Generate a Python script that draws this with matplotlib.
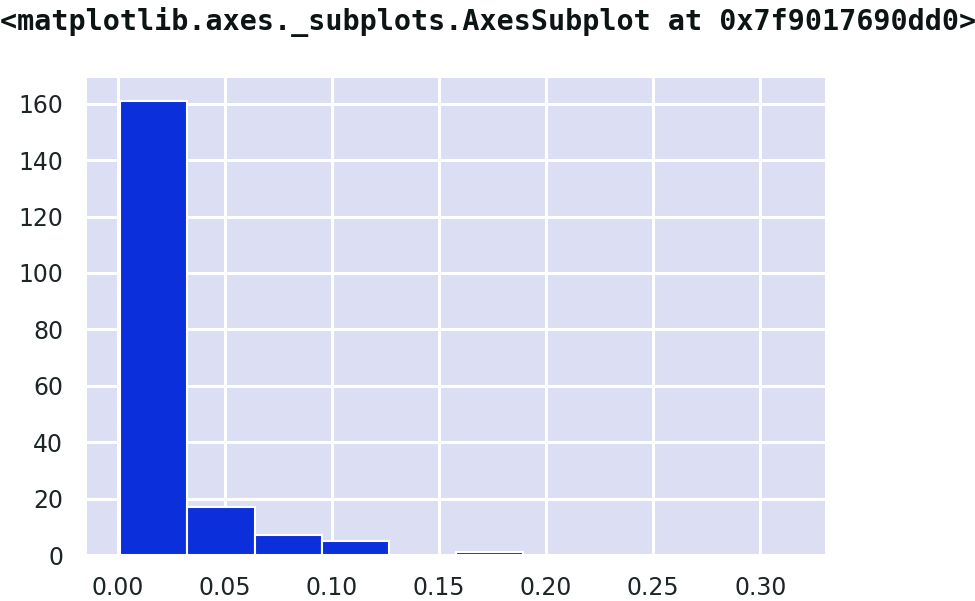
import numpy as np
import matplotlib
matplotlib.use('Agg')
import matplotlib.pyplot as plt

# Данные гистограммы
hist_min = 0.0012
hist_max = 0.3145
counts = [161, 17, 7, 5, 0, 1, 0, 0, 0, 0]
x_ticks = [0.00, 0.05, 0.10, 0.15, 0.20, 0.25, 0.30]
y_ticks = [0, 20, 40, 60, 80, 100, 120, 140, 160]
header = "<matplotlib.axes._subplots.AxesSubplot at 0x7f9017690dd0>"

bins = np.linspace(hist_min, hist_max, len(counts) + 1)
centers = (bins[:-1] + bins[1:]) / 2

fig = plt.figure(figsize=(9.75, 6.01), dpi=100)
fig.patch.set_facecolor('white')
ax = fig.add_axes([0.089, 0.0765, 0.757, 0.7935])
ax.set_facecolor('#dcdff4')
ax.set_axisbelow(True)
ax.grid(True, color='white', linewidth=2.2)
for s in ax.spines.values():
    s.set_visible(False)

ax.hist(centers, bins=bins, weights=counts, color='#0a2fdb',
        edgecolor='white', linewidth=1.5)

ax.set_xticks(x_ticks)
ax.set_xticklabels([f"{t:.2f}" for t in x_ticks])
ax.set_yticks(y_ticks)
ax.tick_params(axis='both', length=0, labelsize=17, colors='#1c2626')
ax.tick_params(axis='x', pad=15)
ax.tick_params(axis='y', pad=17)

# заголовок как вывод ячейки Jupyter
fig.text(0.0, 0.963, header, family='DejaVu Sans Mono', fontsize=20.4,
         fontweight='bold', color='#0d1414', va='center', ha='left')

fig.savefig('out.png', dpi=100)
